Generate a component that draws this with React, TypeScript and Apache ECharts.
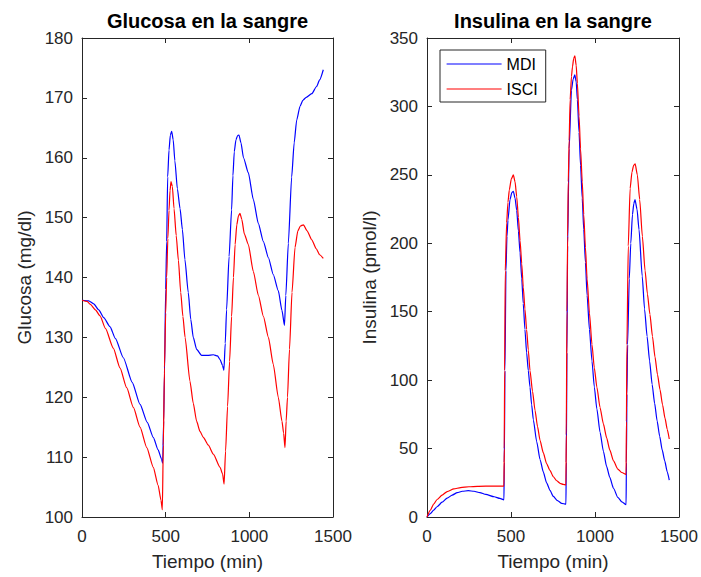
import React, { useEffect, useRef } from "react";
import * as echarts from "echarts";

// ---- Data (time in min, value) ----
const glucoseMdi: [number, number][] = [
  [0, 136.2], [40, 136.1], [70, 135.6], [100, 134.6], [130, 133.3], [167, 131.8], [200, 129.8],
  [247, 126.6], [300, 122.5], [347, 118.8], [390, 115.8], [426, 113.3], [455, 111.2], [475, 109.7],
  [482, 109], [488, 116], [493, 124], [500, 138], [506, 146], [512, 156.8], [520, 161.3],
  [528, 163.8], [536, 164.4], [545, 163], [555, 159.5], [570, 154.8], [586, 151.5], [600, 148],
  [615, 143], [635, 137.5], [650, 133], [665, 130], [685, 128], [715, 127], [750, 127],
  [785, 127.1], [810, 126.9], [825, 126.3], [840, 125.3], [848, 124.5], [856, 129], [864, 134.6],
  [879, 143.5], [894, 151.3], [902, 157], [910, 161], [920, 163], [930, 163.7], [938, 163.8],
  [950, 162.5], [965, 160], [994, 157.5], [1024, 153], [1054, 149], [1084, 146], [1114, 143.3],
  [1143, 140.5], [1173, 137.8], [1195, 134.5], [1210, 132], [1218, 137], [1233, 145.7],
  [1253, 156.8], [1268, 162.5], [1283, 166.3], [1303, 168.6], [1320, 169.6], [1340, 170.1],
  [1373, 170.7], [1402, 171.9], [1420, 173], [1442, 174.7],
];

const glucoseIsci: [number, number][] = [
  [0, 136.2], [30, 136], [50, 135.5], [80, 134.6], [108, 133.6], [140, 131.5], [187, 128.2],
  [227, 124.9], [267, 121.6], [307, 118.3], [347, 115], [387, 111.6], [426, 108.3], [455, 105.3],
  [472, 102.8], [480, 101.2], [486, 112], [493, 125], [500, 134], [506, 140], [513, 146.5],
  [520, 151.2], [526, 154.5], [532, 156], [540, 155.2], [550, 151.5], [563, 147], [576, 142.9],
  [590, 137.5], [603, 133.5], [616, 130], [645, 122.7], [665, 119], [685, 116], [705, 114.3],
  [725, 113.3], [755, 112], [785, 110.5], [825, 108.3], [840, 107.2], [849, 105.5], [858, 111],
  [870, 118.5], [882, 126], [894, 133.5], [905, 140], [915, 145.5], [925, 148.8], [935, 150.3],
  [944, 150.7], [955, 149.7], [970, 147.3], [994, 145.5], [1024, 141], [1054, 137], [1084, 133.5],
  [1114, 130], [1143, 125.5], [1173, 120], [1195, 116], [1205, 114], [1213, 111.6], [1220, 116],
  [1228, 120], [1240, 128], [1255, 137.5], [1273, 145], [1290, 147.8], [1305, 148.6],
  [1323, 148.8], [1345, 147.8], [1373, 146.3], [1400, 144.8], [1420, 143.8], [1442, 143.2],
];

const insulinMdi: [number, number][] = [
  [0, 0], [20, 2.5], [40, 5], [60, 7.5], [90, 10.8], [120, 13.8], [150, 16], [180, 17.8],
  [210, 18.8], [246, 19.2], [280, 18.8], [315, 17.8], [350, 16.5], [400, 14.8], [434, 13.6],
  [458, 12.5], [460, 40], [464, 107], [470, 180], [476, 205], [482, 217], [494, 232], [505, 237],
  [514, 238], [524, 233], [534, 224], [544, 209], [554, 193], [564, 174], [573, 156], [583, 137],
  [593, 120], [603, 107], [613, 95], [623, 82], [633, 71], [653, 55], [673, 42], [692, 33],
  [712, 25], [732, 19.5], [752, 15], [777, 12], [802, 10], [827, 9.3], [829, 40], [833, 120],
  [837, 198], [846, 269], [860, 312], [870, 320], [880, 323], [888, 318], [895, 305], [905, 281],
  [914, 257], [924, 233], [933, 210], [943, 186], [953, 162], [967, 137], [982, 114], [996, 95],
  [1011, 79], [1030, 62], [1050, 48], [1069, 37], [1088, 29], [1110, 21], [1136, 14.3],
  [1160, 11], [1185, 9], [1187, 40], [1190, 90], [1194, 126], [1204, 174], [1213, 200],
  [1223, 221], [1231, 229], [1238, 232], [1250, 225], [1262, 210], [1281, 176], [1295, 152],
  [1310, 132], [1325, 114], [1340, 97], [1355, 83], [1370, 70], [1385, 59], [1400, 49],
  [1415, 41], [1430, 33], [1442, 27],
];

const insulinIsci: [number, number][] = [
  [0, 0], [20, 5], [40, 9.5], [60, 12.8], [90, 16], [120, 18.6], [160, 20.5], [200, 21.5],
  [250, 22.1], [300, 22.4], [400, 22.6], [458, 22.6], [460, 50], [462, 107], [466, 180],
  [474, 215], [482, 230], [490, 239], [502, 247], [514, 250], [524, 245], [534, 234], [544, 219],
  [554, 202], [564, 185], [573, 168], [583, 152], [593, 137], [603, 122], [613, 107], [628, 92],
  [643, 78], [658, 66], [673, 56], [692, 47], [712, 39], [732, 34], [752, 29.4], [772, 26.5],
  [792, 24.6], [810, 23.8], [827, 23.4], [829, 60], [833, 150], [837, 205], [841, 245],
  [846, 275], [852, 305], [860, 322], [866, 329], [873, 335], [880, 337], [888, 330], [895, 317],
  [905, 293], [914, 269], [924, 245], [933, 221], [943, 197], [953, 174], [967, 149], [982, 126],
  [996, 109], [1011, 95], [1030, 80], [1050, 68], [1069, 58], [1088, 49], [1110, 41],
  [1136, 35], [1160, 32.5], [1185, 31], [1187, 70], [1190, 126], [1198, 198], [1209, 240],
  [1220, 252], [1230, 257], [1239, 258], [1252, 250], [1266, 232], [1282, 205], [1298, 180],
  [1312, 163], [1327, 148], [1342, 132], [1357, 117], [1372, 104], [1387, 93], [1402, 82],
  [1417, 72], [1430, 64], [1442, 57],
];

const seriesNames = ["MDI", "ISCI"];
const titles = ["Glucosa en la sangre", "Insulina en la sangre"];
const yNames = ["Glucosa (mg/dl)", "Insulina (pmol/l)"];
const xName = "Tiempo (min)";

const FONT = "'Liberation Sans', Arial, Helvetica, sans-serif";
const AX = "#262626";

const plain = (v: number) => String(v);

function makeX(gridIndex: number, position: "bottom" | "top") {
  const main = position === "bottom";
  return {
    type: "value",
    gridIndex,
    position,
    min: 0,
    max: 1500,
    interval: 500,
    name: main ? xName : "",
    nameLocation: "middle",
    nameGap: 35,
    nameTextStyle: { fontSize: 19, color: AX, fontFamily: FONT },
    axisLine: { show: true, onZero: false, lineStyle: { color: AX, width: 1 } },
    axisTick: { show: true, inside: true, length: 5, lineStyle: { color: AX, width: 1 } },
    axisLabel: { show: main, fontSize: 17, color: AX, margin: 11, fontFamily: FONT, formatter: plain },
    splitLine: { show: false },
  };
}

function makeY(gridIndex: number, position: "left" | "right", min: number, max: number, interval: number, name: string) {
  const main = position === "left";
  return {
    type: "value",
    gridIndex,
    position,
    min,
    max,
    interval,
    name: main ? name : "",
    nameLocation: "middle",
    nameRotate: 90,
    nameGap: 48,
    nameTextStyle: { fontSize: 19, color: AX, fontFamily: FONT },
    axisLine: { show: true, onZero: false, lineStyle: { color: AX, width: 1 } },
    axisTick: { show: true, inside: true, length: 5, lineStyle: { color: AX, width: 1 } },
    axisLabel: { show: main, fontSize: 17, color: AX, margin: 9, fontFamily: FONT, formatter: plain },
    splitLine: { show: false },
  };
}

function lineSeries(name: string, color: string, xi: number, yi: number, data: [number, number][]) {
  return {
    type: "line",
    name,
    xAxisIndex: xi,
    yAxisIndex: yi,
    data,
    symbol: "none",
    showSymbol: false,
    smooth: 0.2,
    smoothMonotone: "x",
    lineStyle: { color, width: 1.2 },
    itemStyle: { color },
    emphasis: { disabled: true },
  };
}

export default function App() {
  const ref = useRef<HTMLDivElement>(null);
  useEffect(() => {
    if (!ref.current) return;
    const chart = echarts.init(ref.current, undefined, { renderer: "svg" });
    chart.setOption({
      animation: false,
      backgroundColor: "#ffffff",
      textStyle: { fontFamily: FONT },
      grid: [
        { left: 82, top: 38, width: 251, height: 479 },
        { left: 427, top: 38, width: 252, height: 479 },
      ],
      xAxis: [makeX(0, "bottom"), makeX(0, "top"), makeX(1, "bottom"), makeX(1, "top")],
      yAxis: [
        makeY(0, "left", 100, 180, 10, yNames[0]),
        makeY(0, "right", 100, 180, 10, ""),
        makeY(1, "left", 0, 350, 50, yNames[1]),
        makeY(1, "right", 0, 350, 50, ""),
      ],
      legend: {
        data: seriesNames,
        orient: "vertical",
        left: 440,
        top: 50,
        itemWidth: 55,
        itemHeight: 14,
        itemGap: 9,
        itemStyle: { opacity: 0 },
        lineStyle: { width: 1.2 },
        padding: [6, 8, 5, 6],
        borderColor: AX,
        borderWidth: 1,
        backgroundColor: "#ffffff",
        textStyle: { fontSize: 16, color: "#000000", fontFamily: FONT },
        selectedMode: false,
      },
      graphic: [
        {
          type: "text",
          x: 207.5,
          y: 21,
          style: {
            text: titles[0],
            textAlign: "center",
            textVerticalAlign: "middle",
            fontSize: 20,
            fontWeight: "bold",
            fontFamily: FONT,
            fill: "#000000",
          },
        },
        {
          type: "text",
          x: 553,
          y: 21,
          style: {
            text: titles[1],
            textAlign: "center",
            textVerticalAlign: "middle",
            fontSize: 20,
            fontWeight: "bold",
            fontFamily: FONT,
            fill: "#000000",
          },
        },
      ],
      series: [
        lineSeries(seriesNames[0], "#0000ff", 0, 0, glucoseMdi),
        lineSeries(seriesNames[1], "#ff0000", 0, 0, glucoseIsci),
        lineSeries(seriesNames[0], "#0000ff", 2, 2, insulinMdi),
        lineSeries(seriesNames[1], "#ff0000", 2, 2, insulinIsci),
      ],
    });
    return () => chart.dispose();
  }, []);
  return (
    <div
      ref={ref}
      style={{ position: "fixed", left: 0, top: 0, width: 701, height: 577, background: "#fff" }}
    />
  );
}
